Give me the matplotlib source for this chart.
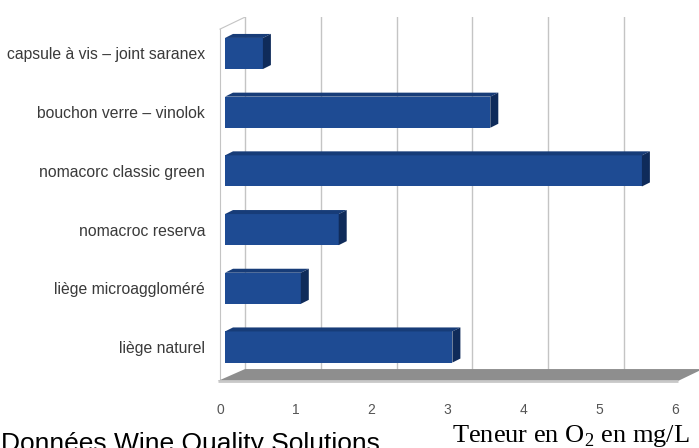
import numpy as np
import matplotlib
matplotlib.use("Agg")
import matplotlib.pyplot as plt
from matplotlib.patches import Polygon

# data (bottom to top)
bouchons = ["liège naturel", "liège microaggloméré", "nomacroc reserva",
            "nomacorc classic green", "bouchon verre – vinolok",
            "capsule à vis – joint saranex"]
teneur_o2 = [3.0, 1.0, 1.5, 5.5, 3.5, 0.5]
xticks = [0, 1, 2, 3, 4, 5, 6]

plt.rcParams['mathtext.fontset'] = 'custom'
plt.rcParams['mathtext.rm'] = 'Liberation Serif'

W, H = 699, 448
fig = plt.figure(figsize=(W / 100, H / 100), dpi=100)

# pixel layout of the pseudo-3d box
px_unit = 75.8          # pixels per mg/L
py_unit = 58.7          # pixels per category
x0_px, y0_px = 220, 347  # x=0 (front), center of first bar
xmin, xmax = -0.03, 6.33
ymin, ymax = -0.58, 5.62
left = x0_px + xmin * px_unit
bottom = H - (y0_px - ymin * py_unit)
ax = fig.add_axes([left / W, bottom / H,
                   (xmax - xmin) * px_unit / W, (ymax - ymin) * py_unit / H])
ax.set_xlim(xmin, xmax)
ax.set_ylim(ymin, ymax)

DX, DY = 25 / px_unit, 12 / py_unit   # depth of the box
floor_y = ymin
top_y = ymax - DY

# back wall grid
for v in xticks:
    ax.plot([v + DX, v + DX], [floor_y + DY, ymax], color="#c4c4c4", lw=1, zorder=1)
# left wall
ax.plot([0, 0], [floor_y, top_y], color="#c4c4c4", lw=0.8, zorder=1)
ax.plot([0, DX], [top_y, ymax], color="#c4c4c4", lw=0.8, zorder=1)

# floor
fx1 = 6.04
ax.add_patch(Polygon([(xmin, floor_y), (fx1, floor_y), (fx1 + DX, floor_y + DY),
                      (DX, floor_y + DY)], closed=True, facecolor="#8e8e8e",
                     edgecolor="none", zorder=2, clip_on=False))
ax.plot([xmin, fx1], [floor_y, floor_y], color="#c8c8c8", lw=2, zorder=2,
        solid_capstyle="butt", clip_on=False)

# bars
bx = 5 / px_unit
bh = 0.53
ddx, ddy = 8 / px_unit, 4 / py_unit
ypos = np.arange(len(bouchons))
ax.barh(ypos, teneur_o2, left=bx, height=bh, color="#1e4b93", zorder=4)
for y, v in zip(ypos, teneur_o2):
    x1 = bx + v
    yt, yb = y + bh / 2, y - bh / 2
    ax.add_patch(Polygon([(bx, yt), (bx + ddx, yt + ddy), (x1 + ddx, yt + ddy), (x1, yt)],
                         facecolor="#173c78", edgecolor="none", zorder=4))
    ax.add_patch(Polygon([(x1, yb), (x1, yt), (x1 + ddx, yt + ddy), (x1 + ddx, yb + ddy)],
                         facecolor="#0f2b5a", edgecolor="none", zorder=4))

ax.set_xticks(xticks)
ax.set_xticklabels([str(t) for t in xticks], family="Liberation Sans",
                   fontsize=10, color="#555555")
ax.set_yticks(ypos)
ax.set_yticklabels(bouchons, family="Liberation Sans", fontsize=11.3, color="#3a3a3a")
ax.tick_params(axis="x", length=0, pad=16)
ax.tick_params(axis="y", length=0, pad=9)
for s in ax.spines.values():
    s.set_visible(False)

fig.text(452 / W, 1 - 442 / H, r"Teneur en O$_2$ en mg/L", family="Liberation Serif",
         fontsize=19, va="baseline", ha="left", color="black")
# cut off at the bottom edge, as in the source image
fig.text(1 / W, -3 / H, "Données Wine Quality Solutions", family="Liberation Sans",
         fontsize=19, va="baseline", ha="left", color="black")

fig.savefig("out.png", dpi=100)
